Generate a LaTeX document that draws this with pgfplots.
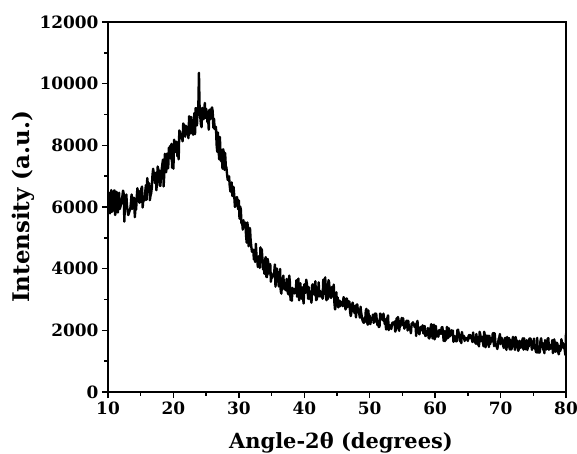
\documentclass[border=0pt]{standalone}
\usepackage{fontspec}
\setmainfont{DejaVu Serif}
\usepackage{pgfplots}
\pgfplotsset{compat=1.18}
\begin{document}
\begin{tikzpicture}
\path[use as bounding box] (-108bp,-62bp) rectangle (469bp,392bp);
\begin{axis}[
  scale only axis,
  width=458bp, height=370bp,
  xmin=10, xmax=80, ymin=0, ymax=12000,
  xtick={10,20,...,80},
  ytick={0,2000,...,12000},
  minor x tick num=1,
  minor y tick num=1,
  tick align=outside,
  tick pos=left,
  major tick length=6bp,
  minor tick length=3.5bp,
  axis line style={line width=1.5bp},
  every tick/.style={line width=1.5bp, black},
  scaled y ticks=false,
  /pgf/number format/assume math mode=true,
  /pgf/number format/set thousands separator={},
  tick label style={font=\bfseries\fontsize{17}{17}\selectfont},
  xlabel={Angle-2θ (degrees)},
  ylabel={Intensity (a.u.)},
  every axis x label/.style={at={(axis description cs:0.5,0)}, yshift=-56bp, xshift=4bp, anchor=base, font=\bfseries\fontsize{21}{21}\selectfont},
  every axis y label/.style={at={(axis description cs:0,0.5)}, xshift=-85bp, rotate=90, anchor=center, font=\bfseries\fontsize{23}{23}\selectfont},
]
\addplot[black, line width=2.4bp, line join=round] coordinates {
(10.0,6065) (10.1,6470) (10.2,5875) (10.3,5795) (10.4,6125) (10.5,6550) (10.6,5845) (10.7,5880) (10.8,6195) (10.9,6525)
(11.0,6535) (11.1,5740) (11.2,5895) (11.3,6495) (11.4,6235) (11.5,5820) (11.6,6135) (11.7,6465) (11.8,5935) (11.9,6010)
(12.0,6105) (12.1,6105) (12.2,6355) (12.3,6530) (12.4,6435) (12.5,5525) (12.6,6235) (12.7,5950) (12.8,6405) (12.9,6055)
(13.0,5865) (13.1,5740) (13.2,5805) (13.3,5880) (13.4,5925) (13.5,6130) (13.6,6405) (13.7,5940) (13.8,6075) (13.9,6300)
(14.0,6285) (14.1,5670) (14.2,5955) (14.3,5920) (14.4,6345) (14.5,6610) (14.6,6195) (14.7,6530) (14.8,6135) (14.9,6230)
(15.0,6165) (15.1,6598) (15.2,6662) (15.3,5985) (15.4,6258) (15.5,6252) (15.6,6215) (15.7,6518) (15.8,6712) (15.9,6235)
(16.0,6938) (16.1,6722) (16.2,6625) (16.3,6768) (16.4,6222) (16.5,6375) (16.6,6448) (16.7,6642) (16.8,7035) (16.9,7238)
(17.0,7082) (17.1,7065) (17.2,6768) (17.3,7112) (17.4,6545) (17.5,6938) (17.6,7312) (17.7,7205) (17.8,7178) (17.9,6702)
(18.0,6685) (18.1,6978) (18.2,7200) (18.3,7373) (18.4,7535) (18.5,6668) (18.6,7060) (18.7,7723) (18.8,7665) (18.9,7128)
(19.0,7730) (19.1,7523) (19.2,7255) (19.3,7918) (19.4,7680) (19.5,7983) (19.6,7565) (19.7,8048) (19.8,7270) (19.9,7673)
(20.0,7245) (20.1,8183) (20.2,7770) (20.3,7818) (20.4,8115) (20.5,8113) (20.6,7650) (20.7,7858) (20.8,7545) (20.9,8483)
(21.0,8430) (21.1,8228) (21.2,8325) (21.3,8303) (21.4,8130) (21.5,8708) (21.6,8655) (21.7,8453) (21.8,8280) (21.9,8638)
(22.0,8355) (22.1,8600) (22.2,8515) (22.3,8230) (22.4,8945) (22.5,8850) (22.6,8385) (22.7,8920) (22.8,8545) (22.9,8440)
(23.0,8345) (23.1,8730) (23.2,9045) (23.3,8360) (23.4,9205) (23.5,9200) (23.6,8645) (23.7,9160) (23.8,9165) (23.9,10350)
(24.0,9230) (24.1,8930) (24.2,8685) (24.3,8590) (24.4,9215) (24.5,8910) (24.6,8845) (24.7,9120) (24.8,9375) (24.9,8890)
(25.0,9185) (25.1,9070) (25.2,8755) (25.3,8890) (25.4,8505) (25.5,9150) (25.6,9155) (25.7,8860) (25.8,9175) (25.9,9230)
(26.0,9105) (26.1,8570) (26.2,8865) (26.3,8530) (26.4,8535) (26.5,8600) (26.6,8025) (26.7,7790) (26.8,8415) (26.9,7860)
(27.0,7545) (27.1,8270) (27.2,7685) (27.3,7480) (27.4,7645) (27.5,7240) (27.6,7875) (27.7,7770) (27.8,7205) (27.9,7750)
(28.0,7335) (28.1,7273) (28.2,7055) (28.3,6877) (28.4,6985) (28.5,6993) (28.6,6705) (28.7,6512) (28.8,6495) (28.9,6798)
(29.0,6355) (29.1,6658) (29.2,6635) (29.3,6347) (29.4,6005) (29.5,6037) (29.6,6285) (29.7,6323) (29.8,6215) (29.9,5927)
(30.0,6215) (30.1,5622) (30.2,6015) (30.3,5918) (30.4,5465) (30.5,5532) (30.6,5265) (30.7,5573) (30.8,5345) (30.9,5443)
(31.0,5495) (31.1,5077) (31.2,4845) (31.3,5498) (31.4,5315) (31.5,4727) (31.6,5085) (31.7,5318) (31.8,4925) (31.9,4717)
(32.0,4555) (32.1,4547) (32.2,4615) (32.3,4297) (32.4,4465) (32.5,4217) (32.6,4805) (32.7,4392) (32.8,4305) (32.9,4057)
(33.0,4295) (33.1,4413) (33.2,4025) (33.3,4693) (33.4,4385) (33.5,4633) (33.6,4325) (33.7,3977) (33.8,4125) (33.9,3832)
(34.0,4275) (34.1,4373) (34.2,3735) (34.3,3727) (34.4,4315) (34.5,4188) (34.6,3845) (34.7,3882) (34.8,4145) (34.9,3577)
(35.0,3815) (35.1,3702) (35.2,3775) (35.3,3833) (35.4,3875) (35.5,4133) (35.6,3415) (35.7,3838) (35.8,4005) (35.9,3798)
(36.0,3685) (36.1,3422) (36.2,3655) (36.3,3988) (36.4,3275) (36.5,3192) (36.6,3595) (36.7,3502) (36.8,3775) (36.9,3387)
(37.0,3325) (37.1,3528) (37.2,3295) (37.3,3668) (37.4,3335) (37.5,3212) (37.6,3165) (37.7,3778) (37.8,3555) (37.9,2982)
(38.0,3175) (38.1,2962) (38.2,3375) (38.3,3207) (38.4,3225) (38.5,3197) (38.6,3355) (38.7,3272) (38.8,3625) (38.9,3092)
(39.0,3265) (39.1,3678) (39.2,2975) (39.3,3328) (39.4,3525) (39.5,3062) (39.6,3025) (39.7,3393) (39.8,3085) (39.9,2872)
(40.0,3495) (40.1,3296) (40.2,3220) (40.3,3641) (40.4,3505) (40.5,3306) (40.6,3020) (40.7,3396) (40.8,3025) (40.9,3145)
(41.0,3030) (41.1,2895) (41.2,3455) (41.3,3496) (41.4,3250) (41.5,3160) (41.6,3325) (41.7,3591) (41.8,2980) (41.9,3000)
(42.0,3125) (42.1,3177) (42.2,3555) (42.3,3102) (42.4,3285) (42.5,3197) (42.6,3085) (42.7,3122) (42.8,3025) (42.9,3643)
(43.0,3175) (43.1,3463) (43.2,3720) (43.3,3092) (43.4,2975) (43.5,3488) (43.6,3015) (43.7,3628) (43.8,3545) (43.9,3172)
(44.0,3095) (44.1,3052) (44.2,3405) (44.3,3097) (44.4,3155) (44.5,3483) (44.6,2905) (44.7,2677) (44.8,2795) (44.9,3233)
(45.0,2825) (45.1,3068) (45.2,2745) (45.3,2872) (45.4,2965) (45.5,2787) (45.6,2935) (45.7,2812) (45.8,2905) (45.9,2782)
(46.0,3075) (46.1,3031) (46.2,2900) (46.3,2675) (46.4,2775) (46.5,3036) (46.6,2750) (46.7,2956) (46.8,2825) (46.9,2931)
(47.0,2600) (47.1,2465) (47.2,2575) (47.3,2826) (47.4,2900) (47.5,2691) (47.6,2625) (47.7,2555) (47.8,2800) (47.9,2420)
(48.0,2825) (48.1,2838) (48.2,2605) (48.3,2598) (48.4,2535) (48.5,2412) (48.6,2765) (48.7,2558) (48.8,2445) (48.9,2317)
(49.0,2275) (49.1,2242) (49.2,2405) (49.3,2277) (49.4,2635) (49.5,2698) (49.6,2265) (49.7,2182) (49.8,2645) (49.9,2217)
(50.0,2475) (50.1,2202) (50.2,2365) (50.3,2413) (50.4,2355) (50.5,2513) (50.6,2245) (50.7,2282) (50.8,2535) (50.9,2548)
(51.0,2525) (51.1,2262) (51.2,2165) (51.3,2307) (51.4,2105) (51.5,2132) (51.6,2545) (51.7,2508) (51.8,2435) (51.9,2443)
(52.0,2325) (52.1,2543) (52.2,2365) (52.3,2202) (52.4,2355) (52.5,2027) (52.6,2295) (52.7,2403) (52.8,2485) (52.9,2007)
(53.0,2175) (53.1,2107) (53.2,2165) (53.3,2042) (53.4,2205) (53.5,2253) (53.6,2195) (53.7,2187) (53.8,2285) (53.9,1957)
(54.0,2025) (54.1,2388) (54.2,2065) (54.3,2433) (54.4,2355) (54.5,1982) (54.6,2145) (54.7,2137) (54.8,2285) (54.9,2403)
(55.0,2175) (55.1,2394) (55.2,2217) (55.3,2055) (55.4,2109) (55.5,2102) (55.6,2301) (55.7,2315) (55.8,1993) (55.9,2307)
(56.0,2035) (56.1,2078) (56.2,2027) (56.3,1905) (56.4,2219) (56.5,2173) (56.6,2261) (56.7,2220) (56.8,2153) (56.9,2102)
(57.0,2195) (57.1,1818) (57.2,2237) (57.3,2306) (57.4,1979) (57.5,1912) (57.6,1871) (57.7,2014) (57.8,2113) (57.9,2006)
(58.0,2055) (58.1,2164) (58.2,1897) (58.3,2101) (58.4,2139) (58.5,1817) (58.6,1831) (58.7,1974) (58.8,1873) (58.9,2077)
(59.0,1765) (59.1,1738) (59.2,1807) (59.3,2061) (59.4,2199) (59.5,2053) (59.6,1741) (59.7,2155) (59.8,2183) (59.9,1706)
(60.0,1775) (60.1,2140) (60.2,1918) (60.3,1802) (60.4,1961) (60.5,1795) (60.6,2004) (60.7,2009) (60.8,1897) (60.9,1891)
(61.0,2090) (61.1,2105) (61.2,1933) (61.3,1657) (61.4,1976) (61.5,1650) (61.6,1969) (61.7,1698) (61.8,2112) (61.9,1967)
(62.0,1755) (62.1,2070) (62.2,1798) (62.3,1842) (62.4,1841) (62.5,2001) (62.6,1934) (62.7,1994) (62.8,1627) (62.9,1821)
(63.0,1770) (63.1,1649) (63.2,1813) (63.3,1642) (63.4,2006) (63.5,2021) (63.6,1899) (63.7,1849) (63.8,1642) (63.9,1731)
(64.0,1585) (64.1,1945) (64.2,1778) (64.3,1772) (64.4,1821) (64.5,1655) (64.6,1764) (64.7,1703) (64.8,1707) (64.9,1753)
(65.0,1655) (65.1,1805) (65.2,1849) (65.3,1743) (65.4,1843) (65.5,1737) (65.6,1737) (65.7,1621) (65.8,1931) (65.9,1725)
(66.0,1625) (66.1,1664) (66.2,1569) (66.3,1879) (66.4,1663) (66.5,1542) (66.6,1657) (66.7,1481) (66.8,1951) (66.9,1861)
(67.0,1645) (67.1,1745) (67.2,1789) (67.3,1628) (67.4,1483) (67.5,1953) (67.6,1827) (67.7,1451) (67.8,1571) (67.9,1831)
(68.0,1765) (68.1,1825) (68.2,1459) (68.3,1819) (68.4,1553) (68.5,1647) (68.6,1647) (68.7,1641) (68.8,1891) (68.9,1911)
(69.0,1485) (69.1,1905) (69.2,1629) (69.3,1513) (69.4,1473) (69.5,1397) (69.6,1517) (69.7,1722) (69.8,1761) (69.9,1881)
(70.0,1555) (70.1,1656) (70.2,1751) (70.3,1653) (70.4,1498) (70.5,1428) (70.6,1594) (70.7,1756) (70.8,1641) (70.9,1366)
(71.0,1787) (71.1,1473) (71.2,1734) (71.3,1745) (71.4,1380) (71.5,1686) (71.6,1376) (71.7,1407) (71.8,1673) (71.9,1789)
(72.0,1669) (72.1,1509) (72.2,1365) (72.3,1782) (72.4,1662) (72.5,1668) (72.6,1508) (72.7,1334) (72.8,1405) (72.9,1661)
(73.0,1601) (73.1,1436) (73.2,1597) (73.3,1654) (73.4,1744) (73.5,1374) (73.6,1740) (73.7,1481) (73.8,1387) (73.9,1477)
(74.0,1683) (74.1,1363) (74.2,1529) (74.3,1470) (74.4,1726) (74.5,1742) (74.6,1722) (74.7,1518) (74.8,1369) (74.9,1570)
(75.0,1565) (75.1,1731) (75.2,1411) (75.3,1452) (75.4,1308) (75.5,1283) (75.6,1754) (75.7,1280) (75.8,1401) (75.9,1276)
(76.0,1297) (76.1,1658) (76.2,1743) (76.3,1545) (76.4,1590) (76.5,1375) (76.6,1386) (76.7,1262) (76.8,1683) (76.9,1478)
(77.0,1379) (77.1,1474) (77.2,1725) (77.3,1747) (77.4,1372) (77.5,1412) (77.6,1518) (77.7,1409) (77.8,1465) (77.9,1681)
(78.0,1261) (78.1,1346) (78.2,1707) (78.3,1564) (78.4,1304) (78.5,1505) (78.6,1600) (78.7,1557) (78.8,1297) (78.9,1222)
(79.0,1493) (79.1,1328) (79.2,1389) (79.3,1711) (79.4,1536) (79.5,1597) (79.6,1432) (79.7,1539) (79.8,1379) (79.9,1204)
(80.0,1900)
};
\end{axis}
\end{tikzpicture}
\end{document}
